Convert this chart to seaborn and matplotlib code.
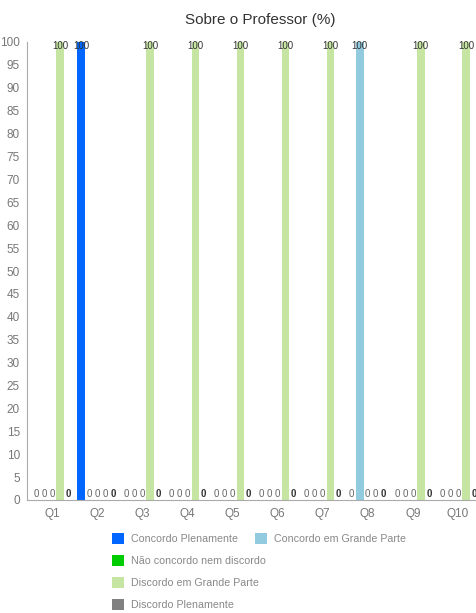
import pandas as pd
import matplotlib.pyplot as plt
import seaborn as sns
from matplotlib.patches import Patch

# data
questions = ["Q1", "Q2", "Q3", "Q4", "Q5", "Q6", "Q7", "Q8", "Q9", "Q10"]
series = ["Concordo Plenamente", "Concordo em Grande Parte", "Não concordo nem discordo",
          "Discordo em Grande Parte", "Discordo Plenamente"]
concordo_plenamente = [0, 100, 0, 0, 0, 0, 0, 0, 0, 0]
concordo_grande_parte = [0, 0, 0, 0, 0, 0, 0, 100, 0, 0]
nao_concordo = [0, 0, 0, 0, 0, 0, 0, 0, 0, 0]
discordo_grande_parte = [100, 0, 100, 100, 100, 100, 100, 0, 100, 100]
discordo_plenamente = [0, 0, 0, 0, 0, 0, 0, 0, 0, 0]
colors = ["#0066ff", "#92cbdf", "#00cc00", "#c6e5a2", "#808080"]

values = [concordo_plenamente, concordo_grande_parte, nao_concordo,
          discordo_grande_parte, discordo_plenamente]
rows = []
for s, vals in zip(series, values):
    for q, v in zip(questions, vals):
        rows.append({"Questao": q, "Serie": s, "Valor": v})
df = pd.DataFrame(rows)

sns.set_style("white")
plt.rcParams['font.family'] = ['Liberation Sans Narrow', 'Liberation Sans', 'DejaVu Sans']
fig = plt.figure(figsize=(4.76, 6.13), dpi=100)
ax = fig.add_axes([27 / 476, 113 / 613, 449 / 476, 458 / 613])

sns.barplot(data=df, x="Questao", y="Valor", hue="Serie", order=questions, hue_order=series,
            palette=colors, saturation=1, width=0.887, gap=0.05, legend=False,
            linewidth=0, edgecolor="none", ax=ax)

# value labels
for i, cont in enumerate(ax.containers):
    for bar in cont:
        h = bar.get_height()
        xc = bar.get_x() + bar.get_width() / 2
        if h >= 100:
            ax.text(xc, 99.2, "100", ha="center", va="center", fontsize=7, color="#333333")
        else:
            if i == 4:
                ax.text(xc, 1.3, "0", ha="center", va="center", fontsize=7,
                        color="#333333", fontweight="bold")
            else:
                ax.text(xc, 1.3, "0", ha="center", va="center", fontsize=7, color="#666666")

ax.set_ylim(0, 100)
ax.set_xlim(-0.554, 9.4)
ax.set_yticks(range(0, 101, 5))
ax.set_xlabel("")
ax.set_ylabel("")
sns.despine(ax=ax)
for sp in ["left", "bottom"]:
    ax.spines[sp].set_color("#aaaaaa")
    ax.spines[sp].set_linewidth(0.8)
ax.tick_params(axis="both", colors="#aaaaaa", length=3, width=0.8, labelsize=8.5, labelcolor="#777777")
ax.tick_params(axis="x", pad=3)
ax.tick_params(axis="y", pad=2)

fig.text(260 / 476, 1 - 20 / 613, "Sobre o Professor (%)", ha="center", va="center",
         fontsize=11, color="#333333")

# legend
handles = [Patch(facecolor=c, edgecolor="none") for c in colors]
leg1 = fig.legend(handles[:2], series[:2], ncol=2, loc="upper left",
                  bbox_to_anchor=(110 / 476, 1 - 531 / 613), frameon=False, fontsize=7.7,
                  handlelength=1.15, handleheight=1.2, handletextpad=0.6, columnspacing=1.6,
                  labelcolor="#888888", borderaxespad=0, borderpad=0.2)
leg2 = fig.legend(handles[2:], series[2:], ncol=1, loc="upper left",
                  bbox_to_anchor=(110 / 476, 1 - 553 / 613), frameon=False, fontsize=7.7,
                  handlelength=1.15, handleheight=1.2, handletextpad=0.6, labelspacing=1.0,
                  labelcolor="#888888", borderaxespad=0, borderpad=0.2)

fig.savefig("out.png", dpi=100)
